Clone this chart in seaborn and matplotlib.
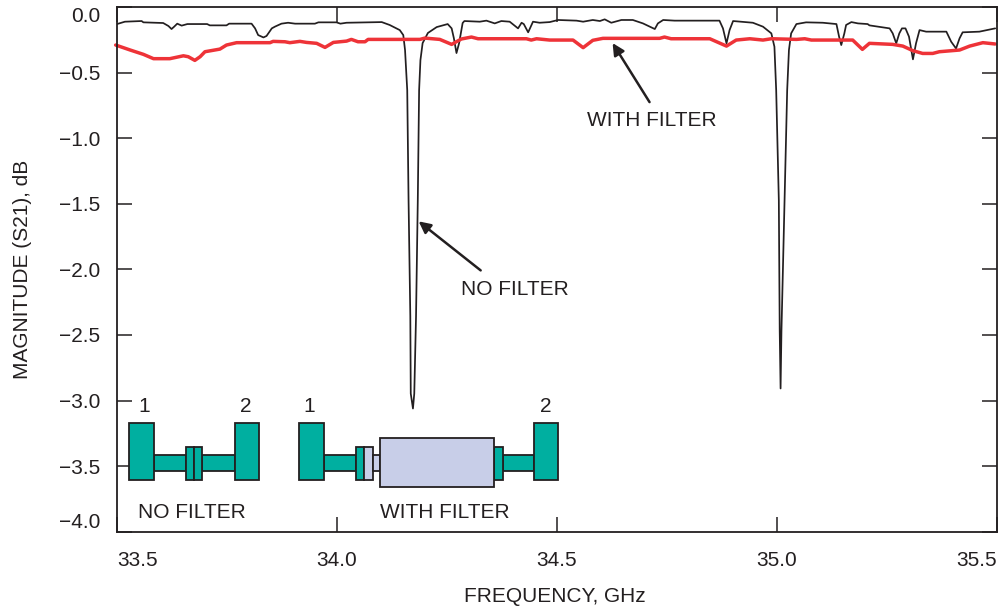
# S21 magnitude with and without the filter
import pandas as pd
import seaborn as sns
import matplotlib.pyplot as plt
from matplotlib.patches import Rectangle

no_filter_freq = [33.500, 33.518, 33.556, 33.560, 33.605, 33.617, 33.624, 33.630, 33.637, 33.647, 33.660, 33.705,
                  33.711, 33.749, 33.755, 33.806, 33.814, 33.821, 33.833, 33.840, 33.852, 33.859, 33.874, 33.889,
                  33.905, 33.950, 33.958, 33.999, 34.008, 34.022, 34.102, 34.120, 34.143, 34.151, 34.155, 34.160,
                  34.163, 34.167, 34.168, 34.173, 34.176, 34.180, 34.184, 34.187, 34.190, 34.195, 34.207, 34.227,
                  34.252, 34.261, 34.266, 34.272, 34.278, 34.286, 34.290, 34.325, 34.340, 34.359, 34.374, 34.393,
                  34.412, 34.420, 34.425, 34.435, 34.446, 34.461, 34.484, 34.503, 34.545, 34.560, 34.582, 34.598,
                  34.609, 34.624, 34.647, 34.673, 34.696, 34.723, 34.730, 34.742, 34.768, 34.870, 34.878, 34.886,
                  34.893, 34.901, 34.946, 34.969, 34.988, 34.995, 34.999, 35.005, 35.007, 35.009, 35.011, 35.018,
                  35.024, 35.028, 35.033, 35.045, 35.067, 35.105, 35.136, 35.142, 35.147, 35.154, 35.158, 35.170,
                  35.185, 35.207, 35.211, 35.257, 35.264, 35.272, 35.279, 35.285, 35.293, 35.301, 35.310, 35.317,
                  35.325, 35.340, 35.386, 35.397, 35.408, 35.416, 35.423, 35.461, 35.497]
no_filter_db = [-.130, -.112, -.107, -.117, -.122, -.145, -.168, -.150, -.127, -.142, -.130, -.130,
                -.140, -.140, -.127, -.127, -.163, -.214, -.232, -.221, -.163, -.150, -.127, -.120,
                -.127, -.127, -.117, -.117, -.127, -.120, -.115, -.137, -.176, -.214, -.328, -.634,
                -1.473, -2.359, -2.947, -3.061, -2.947, -2.359, -1.473, -.634, -.405, -.275, -.198, -.153,
                -.130, -.163, -.237, -.351, -.275, -.122, -.107, -.112, -.104, -.125, -.107, -.112,
                -.163, -.120, -.130, -.193, -.112, -.120, -.115, -.099, -.104, -.112, -.099, -.107,
                -.094, -.120, -.099, -.099, -.125, -.168, -.125, -.099, -.104, -.104, -.163, -.277,
                -.176, -.107, -.120, -.150, -.201, -.303, -.634, -1.473, -2.466, -2.908, -2.466, -1.473,
                -.634, -.328, -.201, -.130, -.117, -.120, -.130, -.226, -.290, -.201, -.137, -.115,
                -.125, -.130, -.140, -.163, -.201, -.277, -.201, -.163, -.163, -.226, -.399, -.277,
                -.176, -.188, -.188, -.265, -.316, -.239, -.193, -.188, -.163]

with_filter_freq = [33.497, 33.530, 33.560, 33.583, 33.620, 33.651, 33.662, 33.677, 33.689, 33.700, 33.734, 33.749,
                    33.772, 33.848, 33.855, 33.882, 33.893, 33.916, 33.931, 33.954, 33.973, 33.992, 34.022, 34.033,
                    34.048, 34.064, 34.071, 34.189, 34.200, 34.234, 34.261, 34.283, 34.306, 34.321, 34.431, 34.442,
                    34.454, 34.484, 34.537, 34.560, 34.582, 34.605, 34.734, 34.745, 34.760, 34.848, 34.886, 34.908,
                    34.939, 34.969, 34.988, 35.045, 35.064, 35.079, 35.173, 35.195, 35.211, 35.264, 35.287, 35.310,
                    35.332, 35.355, 35.370, 35.416, 35.439, 35.469, 35.497]
with_filter_db = [-.290, -.328, -.361, -.394, -.394, -.372, -.379, -.407, -.379, -.341, -.321, -.290,
                  -.272, -.272, -.262, -.265, -.272, -.262, -.270, -.277, -.308, -.270, -.260, -.247,
                  -.265, -.265, -.247, -.247, -.237, -.247, -.285, -.244, -.229, -.242, -.242, -.252,
                  -.242, -.252, -.252, -.310, -.254, -.239, -.239, -.229, -.242, -.242, -.298, -.252,
                  -.242, -.252, -.242, -.247, -.242, -.252, -.252, -.323, -.277, -.285, -.298, -.333,
                  -.354, -.354, -.341, -.328, -.298, -.272, -.282]

x_ticks = [33.5, 34.0, 34.5, 35.0, 35.5]
y_ticks = [0.0, -0.5, -1.0, -1.5, -2.0, -2.5, -3.0, -3.5, -4.0]

W, H = 1002, 615
FS = 15
INK = "#231f20"
TEAL = "#00afa0"
LAV = "#c8cee8"
RED = "#ee3338"

sns.set_style("ticks")
plt.rcParams['font.family'] = ['Liberation Sans', 'DejaVu Sans']
plt.rcParams['axes.unicode_minus'] = True

fig = plt.figure(figsize=(W / 100, H / 100), dpi=100)
ax = fig.add_axes([117 / W, 1 - 531.7 / H, (996.5 - 117) / W, (531.7 - 7) / H])

no_filter = pd.DataFrame({"freq": no_filter_freq, "db": no_filter_db})
with_filter = pd.DataFrame({"freq": with_filter_freq, "db": with_filter_db})
sns.lineplot(data=no_filter, x="freq", y="db", color=INK, lw=1.25, sort=False, errorbar=None, ax=ax)
sns.lineplot(data=with_filter, x="freq", y="db", color=RED, lw=2.5, sort=False, errorbar=None, ax=ax, clip_on=False)

ax.set_xlim(33.5, 35.5)
ax.set_ylim(-4, 0)
ax.set_xticks(x_ticks)
ax.set_yticks(y_ticks)
ax.set_xticklabels([f"{v:.1f}" for v in x_ticks], fontsize=FS, color=INK)
ax.set_yticklabels([f"{v:.1f}".replace("-", "\u2212") for v in y_ticks], fontsize=FS, color=INK)
ax.tick_params(direction="in", length=11, width=1.1, color=INK, top=True, right=True)
ax.tick_params(axis="x", pad=14)
ax.tick_params(axis="y", pad=12)
ax.get_xticklabels()[0].set_ha("left")
ax.get_xticklabels()[-1].set_ha("right")
ax.get_yticklabels()[0].set_va("top")
ax.get_yticklabels()[-1].set_va("bottom")
for s in ax.spines.values():
    s.set_visible(True)
    s.set_linewidth(1.3)
    s.set_color(INK)

ax.set_xlabel("")
ax.set_ylabel("")
fig.text(555 / W, 1 - 597 / H, "FREQUENCY, GHz", fontsize=FS, color=INK, ha="center", va="center")
fig.text(23 / W, 1 - 269 / H, "MAGNITUDE (S21), dB", fontsize=FS, color=INK, ha="center", va="center", rotation=90)

# callouts
ax.text(34.716, -0.863, "WITH FILTER", fontsize=FS, color=INK, ha="center", va="center")
ax.text(34.405, -2.153, "NO FILTER", fontsize=FS, color=INK, ha="center", va="center")
arrow = dict(arrowstyle="-|>,head_length=0.7,head_width=0.35", color=INK, lw=1.8, shrinkA=0, shrinkB=0)
ax.annotate("", xy=(34.627, -0.275), xytext=(34.711, -0.725), arrowprops=arrow)
ax.annotate("", xy=(34.186, -1.634), xytext=(34.327, -2.008), arrowprops=arrow)

# little waveguide drawings, in picture pixels
parts = [
    (154, 455, 186, 471, TEAL), (202, 455, 235, 471, TEAL),
    (186, 447, 194, 480, TEAL), (194, 447, 202, 480, TEAL),
    (129, 423, 154, 480, TEAL), (235, 423, 259, 480, TEAL),
    (324, 455, 356, 471, TEAL), (503, 455, 534, 471, TEAL),
    (356, 447, 364, 480, TEAL), (364, 447, 373, 480, LAV),
    (373, 455, 380, 471, LAV), (494, 447, 503, 480, TEAL),
    (380, 438, 494, 487, LAV),
    (299, 423, 324, 480, TEAL), (534, 423, 558, 480, TEAL),
]
for x0, y0, x1, y1, c in parts:
    fig.add_artist(Rectangle((x0 / W, 1 - y1 / H), (x1 - x0) / W, (y1 - y0) / H, transform=fig.transFigure,
                             facecolor=c, edgecolor=INK, lw=1.3))

labels = [(144, 407, "1"), (246, 407, "2"), (309, 406, "1"), (546, 407, "2"),
          (192, 513, "NO FILTER"), (445, 513, "WITH FILTER")]
for px, py, t in labels:
    fig.text(px / W, 1 - py / H, t, fontsize=FS, color=INK, ha="center", va="center")

fig.savefig("out.png", dpi=100)
